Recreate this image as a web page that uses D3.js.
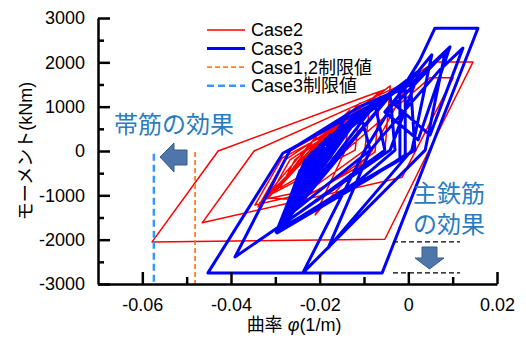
<!DOCTYPE html>
<html>
<head>
<meta charset="utf-8">
<script src="https://cdn.jsdelivr.net/npm/d3@7"></script>
<style>
  body { margin: 0; background: #fff; }
  svg text { font-family: "Liberation Sans", Arial, "Noto Sans CJK JP", sans-serif; }
</style>
</head>
<body>
<div id="chart"></div>
<script>
// Case2 (red) curvature [1/m] / moment [kNm] path, in loading order
const case2Curv = [
    -0.0222, -0.0154, -0.0267, -0.0244, -0.0132, -0.0143, -0.0289, -0.0256, -0.0109, -0.0120,
    -0.0312, -0.0267, -0.0165, -0.0086, -0.0098, -0.0222, -0.0330, -0.0278, -0.0143, -0.0064,
    -0.0075, -0.0199, -0.0346, -0.0285, -0.0188, -0.0041, -0.0053, -0.0244,
    -0.0316, -0.0177, -0.0323, -0.0132, -0.0301, -0.0199, -0.0335, -0.0109, -0.0339,
    -0.0267, -0.0030, 0.0004, -0.0082, -0.0210, -0.0143, 0.0049, 0.0101, -0.0014, -0.0465,
    -0.0348, -0.0026, 0.0060, 0.0146, -0.0053, -0.0578, -0.0429, -0.0093, -0.0053];
const case2Moment = [
    20, 590, -540, -200, 810, 20, -830, -200, 970, 20,
    -990, -200, 470, 1150, 20, -880, -1100, -200, 700, 1330,
    -20, -880, -1220, -160, 360, 1470, -20, -1100,
    -1060, 520, -1100, 925, -925, 430, -1170, 1080, -1260,
    0, 1330, 1600, 0, -1440, 0, 1650, 1650, -590, -1620,
    0, 1440, 2010, 2010, -1990, -2050, 0, 1240, 1380];

// Case3 (blue)
const case3Curv = [
    -0.0177, -0.0143, -0.0244, -0.0132, -0.0267, -0.0210, -0.0109, -0.0086, -0.0283, -0.0199,
    -0.0075, -0.0053, -0.0294, -0.0222, -0.0154, -0.0041, -0.0030, -0.0109, -0.0298, -0.0233,
    -0.0053, -0.0019, -0.0019, -0.0294, -0.0188, -0.0007, -0.0007, -0.0086, -0.0296, -0.0244,
    0.0004, 0.0015, -0.0289,
    -0.0177, -0.0292, -0.0143, -0.0285, -0.0098, -0.0294, -0.0120, -0.0278, -0.0030, -0.0287,
    -0.0064, -0.0292,
    -0.0132, 0.0026, -0.0041,
    -0.0391, -0.0267, -0.0110, 0.0004, 0.0094, 0.0022, -0.0053, 0.0053, 0.0008,
    -0.0181, -0.0086, 0.0071, 0.0123, 0.0049, -0.0030, 0.0083, 0.0038,
    -0.0238, -0.0098, 0.0026, 0.0060, 0.0157, -0.0059, -0.0452, -0.0283, -0.0064, -0.0019];
const case3Moment = [
    20, 590, -880, 700, -1220, 20, 880, 20, -1560, 140,
    1040, 20, -1740, -90, 520, 1260, 20, -650, -1830, -200,
    1150, 1420, -200, -1780, 250, 1560, -90, -610, -1850, -430,
    1650, 20, -1760,
    360, -1690, 740, -1650, 970, -1800, 810, -1510, 1380, -1710,
    1200, -1780,
    590, 1830, 20,
    -2390, 20, 1000, 1490, 2350, 250, 880, 2170, 20,
    -2190, 20, 1830, 2320, 360, 1040, 2230, 20,
    -2750, 20, 2050, 2770, 2770, -2750, -2750, -50, 1150, 1380];

const yTicks = [-3000, -2000, -1000, 0, 1000, 2000, 3000];
const yMinorTicks = [-2500, -1500, -500, 500, 1500, 2500];
const xTicks = [-0.06, -0.04, -0.02, 0, 0.02];
const xMinorTicks = [-0.05, -0.03, -0.01, 0.01];

const limitCase12 = -0.0481;
const limitCase3 = -0.0574;
const envCase2 = -2050;
const envCase3 = -2750;

const legendItems = [
    { label: 'Case2', color: '#ff0000', width: 1.5, dash: null },
    { label: 'Case3', color: '#0000ff', width: 3, dash: null },
    { label: 'Case1,2制限値', color: '#ff7f2a', width: 1.8, dash: '5,3' },
    { label: 'Case3制限値', color: '#3399ff', width: 2.5, dash: '7,4' },
];

const W = 526, H = 338;
const svg = d3.select('#chart').append('svg')
    .attr('width', W)
    .attr('height', H);

const x = d3.scaleLinear().domain([-0.07, 0.02]).range([98, 497]);
const y = d3.scaleLinear().domain([-3000, 3000]).range([284, 18]);

const line = d3.line().x(d => x(d[0])).y(d => y(d[1]));

// hysteresis curves
svg.append('path')
    .datum(case2Curv.map((c, i) => [c, case2Moment[i]]))
    .attr('d', line)
    .attr('fill', 'none')
    .attr('stroke', '#ff0000')
    .attr('stroke-width', 1.5)
    .attr('stroke-linejoin', 'round');

svg.append('path')
    .datum(case3Curv.map((c, i) => [c, case3Moment[i]]))
    .attr('d', line)
    .attr('fill', 'none')
    .attr('stroke', '#0000ff')
    .attr('stroke-width', 3)
    .attr('stroke-linejoin', 'round');

// limit lines
svg.append('line')
    .attr('x1', x(limitCase3)).attr('x2', x(limitCase3))
    .attr('y1', y(-60)).attr('y2', y(-3000))
    .attr('stroke', '#3399ff').attr('stroke-width', 2.5)
    .attr('stroke-dasharray', '7,4');

svg.append('line')
    .attr('x1', x(limitCase12)).attr('x2', x(limitCase12))
    .attr('y1', y(-20)).attr('y2', y(-3000))
    .attr('stroke', '#ff7f2a').attr('stroke-width', 1.8)
    .attr('stroke-dasharray', '5,3');

// envelope reference lines (black dashed)
[envCase2, envCase3].forEach(v => {
    svg.append('line')
        .attr('x1', 393).attr('x2', 460)
        .attr('y1', y(v)).attr('y2', y(v))
        .attr('stroke', '#000').attr('stroke-width', 1.2)
        .attr('stroke-dasharray', '5,3');
});

// axes
svg.append('g')
    .attr('transform', `translate(${x(-0.07)},0)`)
    .call(d3.axisLeft(y).tickValues(yTicks).tickSizeInner(-12).tickSizeOuter(0)
        .tickPadding(13).tickFormat(d => String(d)));

svg.append('g')
    .attr('transform', `translate(${x(-0.07)},0)`)
    .call(d3.axisLeft(y).tickValues(yMinorTicks).tickSizeInner(-6).tickSizeOuter(0)
        .tickFormat(''))
    .select('.domain').remove();

svg.append('g')
    .attr('transform', `translate(0,${y(-3000)})`)
    .call(d3.axisBottom(x).tickValues(xTicks).tickSizeInner(-12).tickSizeOuter(0)
        .tickPadding(14).tickFormat(d => d === 0 ? '0' : d.toFixed(2)));

svg.append('g')
    .attr('transform', `translate(0,${y(-3000)})`)
    .call(d3.axisBottom(x).tickValues(xMinorTicks).tickSizeInner(-7).tickSizeOuter(0)
        .tickFormat(''))
    .select('.domain').remove();

svg.selectAll('.domain').attr('stroke', '#000').attr('stroke-width', 2.5);
svg.selectAll('.tick line').attr('stroke', '#000').attr('stroke-width', 2.5);
svg.selectAll('.tick text')
    .style('font-size', '18px')
    .style('font-family', '"Liberation Sans", Arial, sans-serif')
    .attr('fill', '#000');

// axis titles
svg.append('text')
    .attr('transform', 'translate(26,151) rotate(-90)')
    .attr('text-anchor', 'middle')
    .attr('dy', '0.35em')
    .style('font-size', '18px')
    .text('モーメント(kNm)');

const xTitle = svg.append('text')
    .attr('x', 294)
    .attr('y', 331)
    .attr('text-anchor', 'middle')
    .style('font-size', '18px');
xTitle.append('tspan').text('曲率');
xTitle.append('tspan').style('font-style', 'italic').text(' φ');
xTitle.append('tspan').text('(1/m)');

// legend
const legend = svg.append('g');
legendItems.forEach((item, i) => {
    const ly = 30 + i * 18.6;
    legend.append('line')
        .attr('x1', 207).attr('x2', 245)
        .attr('y1', ly).attr('y2', ly)
        .attr('stroke', item.color)
        .attr('stroke-width', item.width)
        .attr('stroke-dasharray', item.dash);
    legend.append('text')
        .attr('x', 251)
        .attr('y', ly)
        .attr('dy', '0.35em')
        .style('font-size', '18px')
        .text(item.label);
});

// annotations
const noteColor = '#2a7cbf';
svg.append('text')
    .attr('x', 114).attr('y', 133)
    .style('font-size', '24px')
    .attr('fill', noteColor)
    .text('帯筋の効果');

svg.append('text')
    .attr('x', 413).attr('y', 202)
    .style('font-size', '24px')
    .attr('fill', noteColor)
    .text('主鉄筋');
svg.append('text')
    .attr('x', 413).attr('y', 233)
    .style('font-size', '24px')
    .attr('fill', noteColor)
    .text('の効果');

// block arrows
svg.append('path')
    .attr('d', 'M160,157 L174,143 L174,150 L187,150 L187,165 L174,165 L174,172 Z')
    .attr('fill', '#4f76ab')
    .attr('stroke', '#385d8a')
    .attr('stroke-width', 1);

svg.append('path')
    .attr('d', 'M422,247 L437,247 L437,258 L444,258 L429.5,269 L415,258 L422,258 Z')
    .attr('fill', '#4f76ab')
    .attr('stroke', '#385d8a')
    .attr('stroke-width', 1);
</script>
</body>
</html>
